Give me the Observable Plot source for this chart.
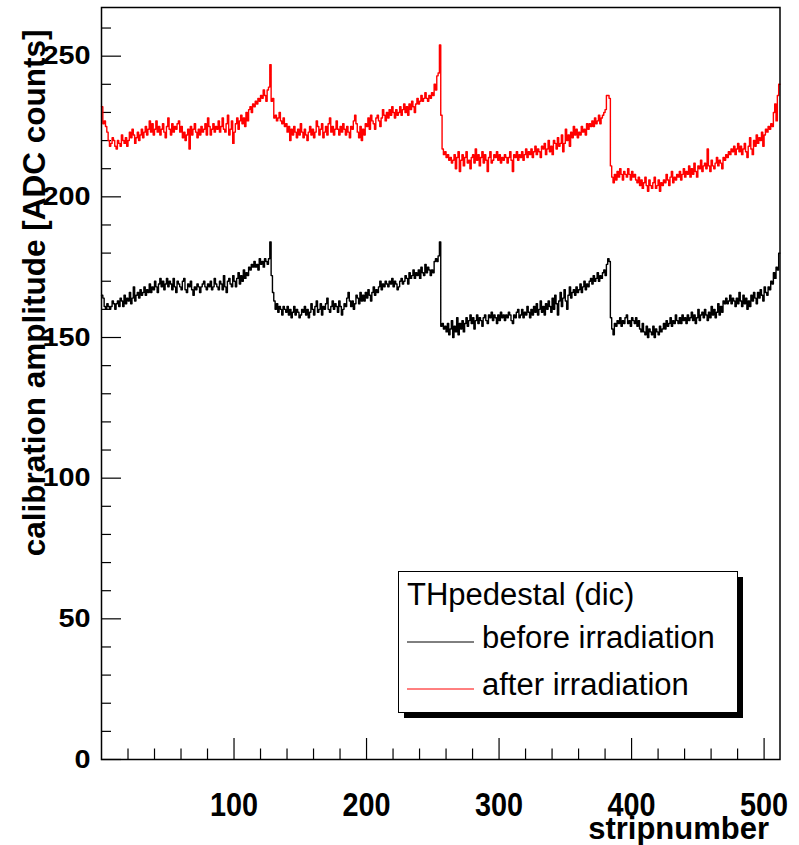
<!DOCTYPE html>
<html><head><meta charset="utf-8">
<script src="https://cdn.jsdelivr.net/npm/d3@7"></script>
<script src="https://cdn.jsdelivr.net/npm/@observablehq/plot@0.6"></script>
<style>body{margin:0;background:#fff}</style>
</head><body><div id="chart"></div>
<script>
// calibration amplitude per strip, "before irradiation" (black), 4 chips x 128 strips
const beforeChip1 = [
165,164,161,160,162,161,160,161,163,162,
160,162,163,161,164,163,161,165,162,164,
163,166,162,164,168,163,165,166,164,167,
165,166,168,165,167,166,169,166,168,167,
170,168,166,169,171,168,170,167,169,171,
168,170,169,167,171,168,166,170,169,168,
167,170,171,167,166,169,168,170,167,165,
168,167,169,168,166,168,169,170,168,167,
169,168,170,167,168,171,169,168,167,170,
169,167,172,168,166,170,171,169,168,172,
170,168,171,173,169,172,170,174,171,173,
172,175,174,176,175,177,175,176,174,178,
176,177,175,178,177,176,178,184];
const beforeChip2 = [
172,166,163,160,162,159,161,160,158,161,
160,159,161,158,160,157,159,161,158,160,
159,157,158,160,159,161,158,160,157,159,
162,160,158,161,163,159,160,162,158,161,
160,162,164,160,159,161,163,160,162,161,
159,163,161,158,160,162,161,164,166,163,
161,163,160,162,165,164,162,166,163,165,
163,166,164,167,165,163,166,168,165,167,
166,168,170,167,169,168,170,169,168,170,
169,171,168,170,169,167,168,170,171,169,
170,172,171,169,173,171,172,174,171,173,
172,174,171,175,173,172,176,173,175,174,
172,174,173,177,178,177,179,184];
const beforeChip3 = [
154,155,153,154,152,155,151,153,156,150,
154,152,157,151,155,153,156,152,155,157,
154,156,158,155,157,153,156,158,155,157,
156,154,157,158,156,155,158,157,159,156,
158,157,155,158,156,159,157,158,156,158,
157,159,158,156,155,158,157,159,160,157,
158,160,157,159,158,161,159,157,160,158,
161,159,162,158,160,163,159,161,158,162,
160,163,161,159,164,160,165,162,158,163,
166,161,164,167,163,160,165,168,164,166,
167,165,168,166,167,169,166,168,170,167,
169,168,170,171,169,172,170,171,173,170,
172,171,173,174,172,176,178,177];
const beforeChip4 = [
157,153,151,155,154,156,155,157,154,156,
155,157,158,155,156,154,157,156,155,157,
154,156,153,152,155,152,151,154,150,153,
152,151,154,150,153,152,151,154,152,153,
155,153,156,154,155,157,154,156,155,158,
156,155,157,155,158,156,157,155,158,156,
157,159,156,158,155,157,160,156,158,159,
157,160,158,156,159,157,161,158,160,157,
159,162,158,161,159,163,162,164,162,163,
165,162,164,163,161,164,162,166,163,161,
165,162,164,160,163,161,165,163,166,164,
162,166,164,167,165,163,168,166,165,168,
167,170,169,173,171,175,174,180];

// "after irradiation" (red)
const afterChip1 = [
232,226,227,225,223,220,218,219,221,220,
218,217,220,219,218,222,220,219,221,218,
220,223,221,224,222,219,221,223,220,222,
224,221,223,225,222,224,227,223,226,222,
224,227,223,225,222,224,226,223,221,225,
228,224,222,226,223,225,224,226,227,223,
225,221,223,220,222,224,217,225,222,224,
226,223,221,224,222,225,223,224,226,222,
228,225,222,224,226,223,225,224,227,223,
225,228,224,223,226,229,222,224,227,219,
223,226,228,224,227,229,226,228,225,230,
227,231,232,230,233,232,234,233,235,234,
236,235,238,236,234,238,239,247];
const afterChip2 = [
234,235,228,229,227,228,230,227,226,228,
225,226,223,225,220,224,222,225,223,221,
224,222,226,223,221,224,222,220,223,225,
222,224,221,223,227,225,222,224,226,221,
223,225,222,226,228,223,225,222,224,227,
224,222,225,223,226,224,222,225,223,221,
225,224,227,229,226,223,221,225,220,224,
222,226,225,228,224,229,227,226,224,228,
229,227,225,228,231,229,227,230,228,231,
229,232,230,228,231,229,230,232,229,231,
233,230,232,229,233,231,234,232,230,233,
235,233,234,236,234,235,237,235,234,236,
235,237,236,240,238,243,244,254];
const afterChip3 = [
229,217,215,216,214,215,213,214,212,213,
215,210,214,216,209,213,215,211,214,216,
212,213,210,214,215,212,217,213,215,211,
214,216,212,215,213,209,214,216,212,213,
215,214,216,213,215,212,214,213,215,214,
212,214,216,213,209,215,214,216,213,215,
214,216,213,215,217,214,216,215,217,214,
216,218,215,217,216,214,218,217,219,215,
217,220,216,218,215,220,219,217,221,218,
219,222,216,219,224,220,222,218,223,221,
225,222,224,221,223,222,225,223,224,222,
226,224,226,225,227,225,228,226,227,229,
226,228,229,230,231,236,236,235];
const afterChip4 = [
211,207,205,208,206,209,207,210,208,206,
209,208,207,210,208,206,209,207,208,206,
205,207,204,206,203,205,207,204,202,206,
204,203,205,207,203,204,206,202,205,204,
206,205,208,206,204,207,209,205,207,206,
208,207,209,206,208,210,207,209,208,211,
207,210,208,212,209,207,211,210,213,209,
211,212,210,217,211,209,213,211,210,212,
214,211,213,212,210,214,213,215,214,216,
215,217,216,218,215,217,219,216,218,215,
217,219,216,214,218,221,217,215,220,218,
222,219,221,220,223,218,222,224,223,225,
224,226,225,230,233,227,236,240];

const yMajorTicks = [0, 50, 100, 150, 200, 250];
const yMinorTicks = [10,20,30,40,60,70,80,90,110,120,130,140,160,170,180,190,210,220,230,240,260];
const xMajorTicks = [100, 200, 300, 400, 500];
const xMinorTicks = [20,40,60,80,120,140,160,180,220,240,260,280,320,340,360,380,420,440,460,480];
const seriesNames = ["before irradiation", "after irradiation"];
const legendTitle = "THpedestal (dic)";
const xTitle = "stripnumber";
const yTitle = "calibration amplitude [ADC counts]";

const before = [...beforeChip1, ...beforeChip2, ...beforeChip3, ...beforeChip4];
const after = [...afterChip1, ...afterChip2, ...afterChip3, ...afterChip4];
if (before.length !== 512 || after.length !== 512) throw new Error("lengths " + before.length + " " + after.length);

function hist(vals) {
  const pts = vals.map((v, i) => ({strip: i, value: v}));
  pts.push({strip: vals.length, value: vals[vals.length - 1]});
  return pts;
}

const W = 799, H = 845, mL = 101, mR = 19.5, mT = 7, mB = 86;
const innerW = W - mL - mR, innerH = H - mT - mB;
const FONT = "'Liberation Sans', Arial, Helvetica, sans-serif";

const svg = Plot.plot({
  width: W, height: H,
  marginLeft: mL, marginRight: mR, marginTop: mT, marginBottom: mB,
  style: {fontFamily: FONT, background: "white", color: "black", overflow: "visible"},
  x: {domain: [0, 512]},
  y: {domain: [0, 267.3]},
  marks: [
    Plot.axisY({ticks: yMajorTicks, tickSize: 0, tickPadding: 11, label: null, fontSize: 28, fontWeight: "bold", fill: "black"}),
    Plot.axisX({ticks: xMajorTicks, tickSize: 0, tickPadding: 33, label: null, fontSize: 28, fontWeight: "bold", fill: "black"}),
    Plot.tickY(yMajorTicks, {y: d => d, insetRight: innerW - 20, stroke: "black", strokeWidth: 1.2}),
    Plot.tickY(yMinorTicks, {y: d => d, insetRight: innerW - 10, stroke: "black", strokeWidth: 1.2}),
    Plot.tickX(xMajorTicks, {x: d => d, insetTop: innerH - 21, stroke: "black", strokeWidth: 1.2}),
    Plot.tickX(xMinorTicks, {x: d => d, insetTop: innerH - 10.5, stroke: "black", strokeWidth: 1.2}),
    Plot.line(hist(before), {x: "strip", y: "value", curve: "step-after", stroke: "black", strokeWidth: 1.4}),
    Plot.line(hist(after), {x: "strip", y: "value", curve: "step-after", stroke: "#ff0000", strokeWidth: 1.4}),
    Plot.frame({stroke: "black", strokeWidth: 1.5}),
    Plot.text([xTitle], {text: d => d, frameAnchor: "bottom-right", textAnchor: "end", lineAnchor: "bottom", dx: -11, dy: 79, fontSize: 31, fontWeight: "bold", fill: "black"}),
    Plot.text([yTitle], {text: d => d, frameAnchor: "top-left", textAnchor: "end", lineAnchor: "bottom", rotate: -90, dx: -57, dy: 22, fontSize: 31.5, fontWeight: "bold", fill: "black"})
  ]
});

const s = d3.select(svg);
// ROOT's tick labels: x labels tall, y labels slightly flattened
s.selectAll('g[aria-label="x-axis tick label"] text').each(function() {
  const t = d3.select(this);
  t.attr("transform", (t.attr("transform") || "") + " scale(1.03,1.18)");
});
s.selectAll('g[aria-label="y-axis tick label"] text').each(function() {
  const t = d3.select(this);
  t.attr("transform", (t.attr("transform") || "") + " scale(1.03,0.92)");
});

// legend box (ROOT TLegend style with shadow)
const lg = s.append("g").attr("font-family", FONT).attr("font-size", 31).attr("text-anchor", "start");
lg.append("rect").attr("x", 404).attr("y", 577).attr("width", 339).attr("height", 141).attr("fill", "black");
lg.append("rect").attr("x", 398.5).attr("y", 571.5).attr("width", 339).attr("height", 141).attr("fill", "white").attr("stroke", "black").attr("stroke-width", 1);
lg.append("text").attr("x", 407).attr("y", 605).attr("fill", "black").attr("text-anchor", "start").text(legendTitle);
const colors = ["black", "#ff0000"];
seriesNames.forEach((name, i) => {
  const yb = 648 + i * 47;
  lg.append("line").attr("x1", 407).attr("x2", 474).attr("y1", yb - 6).attr("y2", yb - 6).attr("stroke", colors[i]).attr("stroke-width", 1);
  lg.append("text").attr("x", 482).attr("y", yb).attr("fill", "black").attr("text-anchor", "start").text(name);
});

document.getElementById("chart").appendChild(svg);
</script>
</body></html>
